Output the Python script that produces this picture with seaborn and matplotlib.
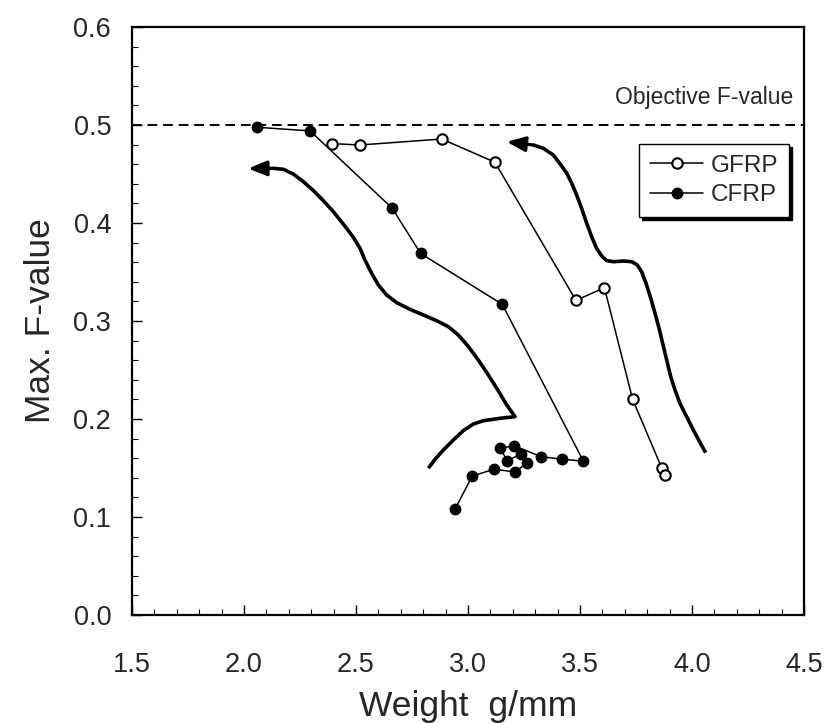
import matplotlib
matplotlib.use("Agg")
import matplotlib.pyplot as plt
import seaborn as sns
import pandas as pd
from matplotlib.ticker import MultipleLocator

# ---- data ----
gfrp_x = [2.394, 2.518, 2.883, 3.120, 3.482, 3.609, 3.735, 3.865, 3.880]
gfrp_y = [0.481, 0.4796, 0.4857, 0.462, 0.321, 0.334, 0.220, 0.150, 0.143]

cfrp_x = [2.057, 2.295, 2.662, 2.788, 3.153, 3.515, 3.420, 3.326, 3.205,
          3.143, 3.176, 3.237, 3.265, 3.210, 3.116, 3.019, 2.942]
cfrp_y = [0.4977, 0.494, 0.415, 0.369, 0.317, 0.157, 0.159, 0.1616, 0.1728,
          0.170, 0.1575, 0.1643, 0.1554, 0.146, 0.1487, 0.1418, 0.108]

# hand-drawn trend curves (bottom end first)
left_curve_x = [2.823, 2.853, 2.890, 2.935, 2.979, 3.024, 3.069, 3.143, 3.210,
                3.173, 3.135, 3.091, 3.046, 3.002, 2.957, 2.912, 2.860, 2.801,
                2.741, 2.682, 2.637, 2.600, 2.570, 2.540, 2.518, 2.488, 2.443,
                2.399, 2.354, 2.310, 2.265, 2.220, 2.176, 2.131]
left_curve_y = [0.1497, 0.1589, 0.1684, 0.1786, 0.1881, 0.1949, 0.1983, 0.2007,
                0.2024, 0.2143, 0.2289, 0.2449, 0.2602, 0.2738, 0.2857, 0.2942,
                0.3003, 0.3061, 0.3119, 0.3187, 0.3265, 0.3367, 0.3486, 0.3622,
                0.3742, 0.3854, 0.3990, 0.4116, 0.4228, 0.4330, 0.4422, 0.4500,
                0.4548, 0.4558]
left_arrow_tip = (2.019, 0.4556)

right_curve_x = [4.061, 4.036, 4.006, 3.976, 3.946, 3.924, 3.905, 3.887, 3.869,
                 3.853, 3.835, 3.816, 3.795, 3.775, 3.756, 3.731, 3.694, 3.649,
                 3.619, 3.597, 3.574, 3.552, 3.530, 3.507, 3.485, 3.463, 3.441,
                 3.418, 3.381, 3.336, 3.292]
right_curve_y = [0.1656, 0.1759, 0.1888, 0.2024, 0.2160, 0.2296, 0.2432, 0.2602,
                 0.2772, 0.2925, 0.3078, 0.3231, 0.3384, 0.3503, 0.3571, 0.3605,
                 0.3612, 0.3605, 0.3616, 0.3663, 0.3742, 0.3861, 0.3997, 0.4150,
                 0.4286, 0.4405, 0.4507, 0.4582, 0.4694, 0.4762, 0.4796]
right_arrow_tip = (3.173, 0.4828)

objective_value = 0.5
x_ticks = [1.5, 2.0, 2.5, 3.0, 3.5, 4.0, 4.5]
y_ticks = [0.0, 0.1, 0.2, 0.3, 0.4, 0.5, 0.6]

gfrp = pd.DataFrame({"x": gfrp_x, "y": gfrp_y})
cfrp = pd.DataFrame({"x": cfrp_x, "y": cfrp_y})
lc = pd.DataFrame({"x": left_curve_x, "y": left_curve_y})
rc = pd.DataFrame({"x": right_curve_x, "y": right_curve_y})

sns.set_style("ticks")
plt.rcParams["font.family"] = ["Liberation Sans", "DejaVu Sans"]

fig = plt.figure(figsize=(8.28, 7.23), dpi=100)
ax = fig.add_axes([132 / 828, (723 - 615) / 723, 672 / 828, 588 / 723])

# thick trend curves
for d in (lc, rc):
    sns.lineplot(data=d, x="x", y="y", sort=False, estimator=None, ax=ax,
                 color="black", lw=2.6, solid_capstyle="butt",
                 solid_joinstyle="round")
for cx, cy, tip in [(left_curve_x, left_curve_y, left_arrow_tip),
                    (right_curve_x, right_curve_y, right_arrow_tip)]:
    ax.annotate("", xy=tip, xytext=(cx[-1], cy[-1]),
                arrowprops=dict(arrowstyle="-|>,head_length=1.1,head_width=0.45",
                                color="black", lw=2.4, shrinkA=0, shrinkB=0))

# objective line
ax.axhline(objective_value, color="black", lw=1.4, ls=(0, (5, 3)))
ax.text(4.452, 0.5276, "Objective F-value", ha="right", va="center",
        fontsize=16.5)

# data series
sns.lineplot(data=gfrp, x="x", y="y", sort=False, estimator=None, ax=ax,
             color="black", lw=1.1, marker="o", markersize=7.5,
             markerfacecolor="white", markeredgecolor="black",
             markeredgewidth=1.5, label="GFRP")
sns.lineplot(data=cfrp, x="x", y="y", sort=False, estimator=None, ax=ax,
             color="black", lw=1.1, marker="o", markersize=7.5,
             markerfacecolor="black", markeredgecolor="black",
             markeredgewidth=1.0, label="CFRP")

ax.set_xlim(1.5, 4.5)
ax.set_ylim(0.0, 0.6)
ax.set_xticks(x_ticks)
ax.set_yticks(y_ticks)
ax.set_xticklabels([f"{v:.1f}" for v in x_ticks])
ax.set_yticklabels([f"{v:.1f}" for v in y_ticks])
ax.xaxis.set_minor_locator(MultipleLocator(0.1))
ax.yaxis.set_minor_locator(MultipleLocator(0.02))
ax.tick_params(which="major", direction="in", length=7.5, width=1.0,
               labelsize=19.5, color="black")
ax.tick_params(which="minor", direction="in", length=4.5, width=0.8, color="black")
ax.tick_params(axis="x", which="major", pad=27)
ax.tick_params(axis="y", which="major", pad=15)
for s in ax.spines.values():
    s.set_linewidth(1.6)
    s.set_color("black")

ax.set_xlabel("Weight  g/mm", fontsize=25.5, labelpad=8)
ax.set_ylabel("Max. F-value", fontsize=25.5, labelpad=12)

leg = ax.legend(loc="upper right", bbox_to_anchor=(0.978, 0.801),
                borderaxespad=0, fancybox=False, frameon=True,
                edgecolor="black", framealpha=1, fontsize=17.5,
                handlelength=2.2, handletextpad=0.3, borderpad=0.45,
                labelspacing=0.3,
                shadow={"color": "black", "alpha": 1.0})
leg.get_frame().set_linewidth(1.0)

fig.savefig("out.png", dpi=100)
